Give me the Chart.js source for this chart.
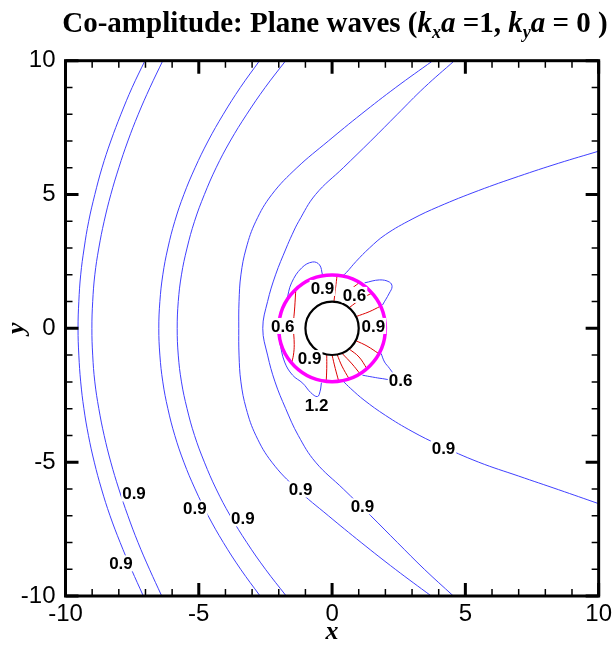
<!DOCTYPE html>
<html><head><meta charset="utf-8">
<script src="https://cdn.jsdelivr.net/npm/chart.js@4.4.1/dist/chart.umd.min.js"></script>
<style>
html,body{margin:0;padding:0;background:#fff;overflow:hidden;}
#wrap{position:relative;width:616px;height:651px;}
#c{position:absolute;left:0;top:0;}
#title{position:absolute;left:27px;top:5px;width:616px;text-align:center;font-family:'Liberation Serif','Times New Roman',serif;font-weight:bold;font-size:29px;color:#000;white-space:nowrap;line-height:34px;}
#title sub{font-size:18px;vertical-align:-6px;line-height:0;}
</style></head>
<body><div id="wrap"><canvas id="c" width="616" height="651"></canvas>
<div id="title">Co-amplitude: Plane waves (<i>k<sub>x</sub>a</i> =1, <i>k<sub>y</sub>a</i> = 0 )</div></div>
<script>
// ---- axis values ----
const xTicks = [-10, -5, 0, 5, 10];
const yTicks = [-10, -5, 0, 5, 10];
const xTickLabels = ['-10', '-5', '0', '5', '10'];
const yTickLabels = ['-10', '-5', '0', '5', '10'];
const axisMin = -10, axisMax = 10;

// ---- blue contour lines (x, y) ----
const farLeftOuter = [[-7.02,10],[-7.50,9],[-7.92,8],[-8.30,7],[-8.63,6],[-8.90,5],[-9.13,4],[-9.30,3],[-9.43,2],[-9.50,1],[-9.53,0],[-9.50,-1],[-9.43,-2],[-9.31,-3],[-9.14,-4],[-8.92,-5],[-8.65,-6],[-8.33,-7],[-7.95,-8],[-7.53,-9],[-7.08,-10]];
const farLeftInner = [[-6.35,10],[-6.83,9],[-7.27,8],[-7.66,7],[-8.00,6],[-8.30,5],[-8.55,4],[-8.75,3],[-8.90,2],[-8.98,1],[-9.01,0],[-8.98,-1],[-8.90,-2],[-8.75,-3],[-8.55,-4],[-8.30,-5],[-8.00,-6],[-7.66,-7],[-7.28,-8],[-6.85,-9],[-6.39,-10]];
const midLeftOuter = [[-2.72,10],[-3.44,9],[-4.08,8],[-4.65,7],[-5.14,6],[-5.56,5],[-5.90,4],[-6.16,3],[-6.35,2],[-6.46,1],[-6.50,0],[-6.46,-1],[-6.35,-2],[-6.16,-3],[-5.90,-4],[-5.56,-5],[-5.14,-6],[-4.65,-7],[-4.08,-8],[-3.43,-9],[-2.70,-10]];
const midLeftInner = [[-1.74,10],[-2.51,9],[-3.20,8],[-3.82,7],[-4.35,6],[-4.79,5],[-5.16,4],[-5.44,3],[-5.65,2],[-5.77,1],[-5.81,0],[-5.77,-1],[-5.65,-2],[-5.44,-3],[-5.16,-4],[-4.79,-5],[-4.35,-6],[-3.82,-7],[-3.20,-8],[-2.50,-9],[-1.72,-10]];
const nearOuter = [[3.78,10],[2.39,9],[1.09,8],[-0.14,7],[-1.32,6],[-2.26,5],[-2.86,4],[-3.22,3],[-3.42,2],[-3.49,1],[-3.50,0],[-3.49,-1],[-3.42,-2],[-3.22,-3],[-2.86,-4],[-2.26,-5],[-1.32,-6],[-0.14,-7],[1.09,-8],[2.37,-9],[3.72,-10]];
const nearInner = [[4.59,10],[3.46,9],[2.45,8],[1.45,7],[0.42,6],[-0.62,5],[-1.25,4],[-1.50,3.5],[-1.72,3],[-2.12,2],[-2.42,1],[-2.60,0],[-2.42,-1],[-2.14,-2],[-1.74,-3],[-1.27,-4],[-0.62,-5],[0.42,-6],[1.45,-7],[2.45,-8],[3.46,-9],[4.55,-10]];
const wakeUpper = [[10,6.62],[8.5,6.17],[7,5.68],[5.5,5.15],[4,4.55],[3,4.08],[2,3.50],[1.4,3.0],[0.9,2.5],[0.55,2.1],[0.40,1.96]];
const wakeLower = [[0.40,-1.96],[0.70,-2.25],[1.2,-2.68],[2.0,-3.25],[3.0,-3.85],[4.0,-4.35],[5.5,-5.00],[7.0,-5.52],[8.5,-6.03],[10,-6.55]];
const lobeUpperLeft = [[-1.70,1.06],[-1.52,1.70],[-1.14,2.26],[-0.73,2.48],[-0.47,2.37],[-0.36,2.0]];
const lobeLowerLeft = [[-1.97,-0.5],[-1.78,-1.26],[-1.48,-1.75],[-1.10,-2.05],[-0.80,-2.40],[-0.55,-2.55],[-0.45,-2.35],[-0.40,-2.03]];
const lobeUpperRight = [[1.22,1.70],[1.78,1.81],[2.15,1.73],[2.25,1.56],[2.15,1.32],[1.89,0.87]];
const lobeLowerRight = [[1.84,-0.94],[1.97,-1.26],[2.15,-1.49],[2.30,-1.75],[2.20,-1.90],[1.90,-1.88],[1.52,-1.82],[1.14,-1.75]];

// ---- red contour lines inside the ring ----
const redLeft = [[-1.36,1.47],[-1.40,0.8],[-1.45,0.1],[-1.42,-0.6],[-1.45,-1.0],[-1.52,-1.30]];
const redU1 = [[0.19,2.0],[0.13,1.5],[0.07,1.0]];
const redU2 = [[1.03,1.72],[0.64,1.38],[0.37,0.93]];
const redU3 = [[1.50,1.32],[1.09,1.10],[0.64,0.77]];
const redU4 = [[1.82,0.83],[1.39,0.62],[0.90,0.44]];
const redL1 = [[0.89,-0.46],[1.31,-0.66],[1.76,-0.95]];
const redL2 = [[0.64,-0.77],[1.01,-1.07],[1.31,-1.51]];
const redL3 = [[0.37,-0.93],[0.75,-1.33],[1.05,-1.70]];
const redL4 = [[0.19,-0.98],[0.37,-1.41],[0.64,-1.89]];
const redL5 = [[0.0,-1.0],[0.12,-1.5],[0.25,-1.98]];
const redL6 = [[-0.2,-0.98],[-0.2,-1.5],[-0.22,-1.99]];

// ---- circles (radius) ----
const cylinderRadius = [1];
const ringRadius = [2];

// ---- contour labels ----
const labelText = ['0.9','0.6','0.6','0.9','0.9','0.6','1.2','0.9','0.9','0.9','0.9','0.9','0.9','0.9'];
const labelX = [-0.36, 0.84, -1.85, 1.55, -0.84, 2.57, -0.58, 4.18, -1.18, 1.14, -7.43, -5.15, -3.35, -7.92];
const labelY = [1.51, 1.25, 0.09, 0.09, -1.11, -1.94, -2.87, -4.48, -6.02, -6.65, -6.17, -6.73, -7.1, -8.78];

const BLUE = 'rgb(64,64,255)';
const RED = 'rgb(220,0,0)';

function ds(pts, color) {
  return {data: pts.map(p => ({x: p[0], y: p[1]})), borderColor: color, borderWidth: 1,
    pointRadius: 0, pointHoverRadius: 0, tension: 0.4, fill: false};
}
const datasets = [];
[redLeft, redU1, redU2, redU3, redU4, redL1, redL2, redL3, redL4, redL5, redL6].forEach(c => datasets.push(ds(c, RED)));
[farLeftOuter, farLeftInner, midLeftOuter, midLeftInner, nearOuter, nearInner, wakeUpper, wakeLower,
 lobeUpperLeft, lobeLowerLeft, lobeUpperRight, lobeLowerRight].forEach(c => datasets.push(ds(c, BLUE)));

const overlay = {
  id: 'overlay',
  afterDatasetsDraw(chart) {
    const ctx = chart.ctx, xs = chart.scales.x, ys = chart.scales.y, a = chart.chartArea;
    const cx = xs.getPixelForValue(0), cy = ys.getPixelForValue(0);
    ctx.save();
    ctx.beginPath();
    ctx.arc(cx, cy, xs.getPixelForValue(ringRadius[0]) - cx, 0, Math.PI * 2);
    ctx.strokeStyle = 'rgb(255,0,255)'; ctx.lineWidth = 3.5; ctx.stroke();
    ctx.beginPath();
    ctx.arc(cx, cy, xs.getPixelForValue(cylinderRadius[0]) - cx, 0, Math.PI * 2);
    ctx.strokeStyle = '#000'; ctx.lineWidth = 2.2; ctx.stroke();
    ctx.font = 'bold 17px "Liberation Sans", Arial, sans-serif';
    ctx.textAlign = 'center'; ctx.textBaseline = 'middle';
    labelText.forEach((t, i) => {
      const px = xs.getPixelForValue(labelX[i]), py = ys.getPixelForValue(labelY[i]);
      const w = ctx.measureText(t).width;
      ctx.fillStyle = '#fff';
      ctx.fillRect(px - w / 2 - 1, py - 8, w + 2, 16);
      ctx.fillStyle = '#000';
      ctx.fillText(t, px, py + 1);
    });
    ctx.strokeStyle = '#000';
    ctx.lineWidth = 3;
    ctx.strokeRect(a.left, a.top, a.right - a.left, a.bottom - a.top);
    for (let v = axisMin; v <= axisMax; v++) {
      const major = v % 5 === 0;
      const len = major ? 13 : 7;
      ctx.lineWidth = major ? 3 : 1.5;
      const px = xs.getPixelForValue(v), py = ys.getPixelForValue(v);
      ctx.beginPath();
      ctx.moveTo(px, a.bottom); ctx.lineTo(px, a.bottom - len);
      ctx.moveTo(px, a.top); ctx.lineTo(px, a.top + len);
      ctx.moveTo(a.left, py); ctx.lineTo(a.left + len, py);
      ctx.moveTo(a.right, py); ctx.lineTo(a.right - len, py);
      ctx.stroke();
    }
    ctx.restore();
  }
};

new Chart(document.getElementById('c'), {
  type: 'line',
  data: {datasets},
  options: {
    responsive: false, animation: false, devicePixelRatio: 1,
    layout: {padding: {top: 60.7, right: 16.5, left: 0, bottom: 0}},
    plugins: {legend: {display: false}, tooltip: {enabled: false}, title: {display: false}},
    scales: {
      x: {type: 'linear', min: axisMin, max: axisMax, position: 'bottom',
        grid: {display: false, drawTicks: false}, border: {display: false},
        afterBuildTicks(s) { s.ticks = xTicks.map(v => ({value: v})); },
        ticks: {padding: 4, color: '#000', maxRotation: 0, autoSkip: false,
          font: {family: '"Liberation Sans", Arial, sans-serif', size: 24},
          callback: (v) => xTickLabels[xTicks.indexOf(v)]},
        title: {display: true, text: 'x', color: '#000', padding: {top: 0, bottom: 6},
          font: {family: '"Liberation Serif", "Times New Roman", serif', size: 26, style: 'italic', weight: 'bold', lineHeight: 1}},
        afterFit(s) { s.height = 55; }
      },
      y: {type: 'linear', min: axisMin, max: axisMax, position: 'left',
        grid: {display: false, drawTicks: false}, border: {display: false},
        afterBuildTicks(s) { s.ticks = yTicks.map(v => ({value: v})); },
        ticks: {padding: 10, color: '#000', autoSkip: false,
          font: {family: '"Liberation Sans", Arial, sans-serif', size: 24},
          callback: (v) => yTickLabels[yTicks.indexOf(v)]},
        title: {display: true, text: 'y', color: '#000', padding: {top: 4, bottom: 0},
          font: {family: '"Liberation Serif", "Times New Roman", serif', size: 26, style: 'italic', weight: 'bold', lineHeight: 1}},
        afterFit(s) { s.width = 65.5; }
      }
    }
  },
  plugins: [overlay]
});
</script>
</body></html>
